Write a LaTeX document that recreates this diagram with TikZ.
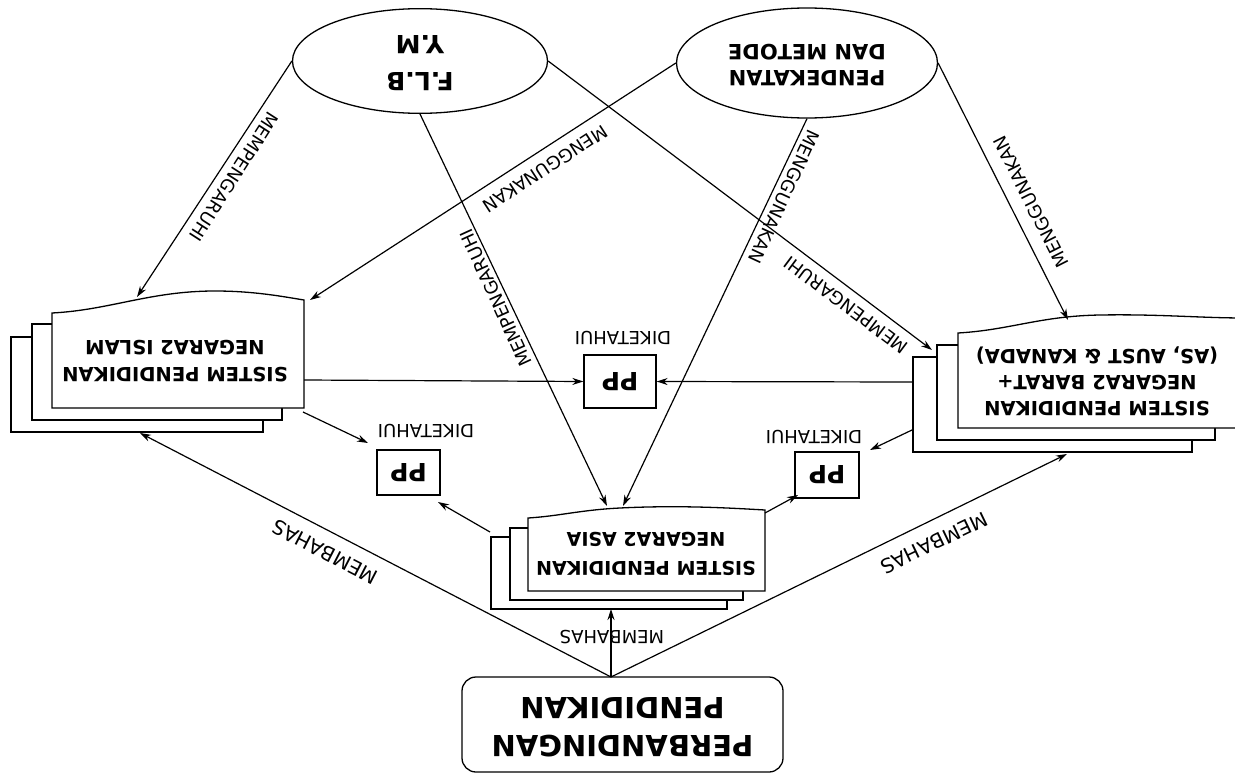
\documentclass[tikz,border=0pt]{standalone}
\usepackage{fontspec}
\usepackage{graphicx}
\setmainfont{DejaVu Sans}
\usetikzlibrary{shapes.geometric,arrows.meta}
\newcommand\flipbox[1]{\rotatebox[origin=c]{180}{#1}}
\tikzset{
  conn/.style={draw, line width=1.2pt, -{Stealth[length=11pt,width=7pt]}},
  lbl/.style={font=\fontsize{18}{20}\selectfont, inner sep=0pt},
  boxtext/.style={font=\bfseries\fontsize{19.5}{27}\selectfont, align=center, rotate=180, inner sep=0pt},
  oval/.style={draw, ellipse, line width=1.3pt, inner sep=0pt, font=\bfseries},
  ppbox/.style={draw, rectangle, line width=1.3pt, inner sep=0pt, font=\bfseries\fontsize{25}{25}\selectfont},
  sheet/.style={draw, line width=1.3pt, fill=white},
}
\begin{document}
\begin{tikzpicture}[x=1pt,y=-1pt]
\useasboundingbox (0,0) rectangle (1235,779);

% ---------- ellipses ----------
\node[oval, minimum width=255pt, minimum height=98pt] (flb) at (420,61)
  {\flipbox{\fontsize{25}{37}\selectfont\begin{tabular}{@{}c@{}}F.L.B\\Y.M\end{tabular}}};
\node[oval, minimum width=261pt, minimum height=110pt] (pend) at (807,63)
  {\flipbox{\fontsize{21}{26}\selectfont\begin{tabular}{@{}c@{}}PENDEKATAN\\DAN METODE\end{tabular}}};

% ---------- Islam stack ----------
\path[sheet] (11,337) rectangle (263,432);
\path[sheet] (32,324) rectangle (282,420);
\path[sheet] (52,408) -- (52,313) .. controls (110,310) and (150,291) .. (215,291)
   .. controls (255,291) and (285,297) .. (304,300) -- (304,408) -- cycle;
\node[boxtext] (islam) at (175,361) {SISTEM PENDIDIKAN\\NEGARA2 ISLAM};

% ---------- Barat stack ----------
\path[sheet] (913,357) rectangle (1192,452);
\path[sheet] (937,345) rectangle (1215,440);
\path[sheet] (958,428) -- (958,333) .. controls (1010,330) and (1040,316) .. (1100,315)
   .. controls (1160,314) and (1200,318) .. (1245,318) -- (1245,428) -- cycle;
\node[boxtext, font=\bfseries\fontsize{19.5}{26}\selectfont] (barat) at (1097,381)
  {SISTEM PENDIDIKAN\\NEGARA2 BARAT+\\(AS, AUST \& KANADA)};

% ---------- Asia stack ----------
\path[sheet] (491,537) rectangle (727,609);
\path[sheet] (510,528) rectangle (743,600);
\path[sheet] (528,591) -- (528,518) .. controls (560,516) and (580,510) .. (620,508)
   .. controls (680,505) and (730,508) .. (765,510) -- (765,591) -- cycle;
\node[boxtext, font=\bfseries\fontsize{19}{29}\selectfont] (asia) at (646,554) {SISTEM PENDIDIKAN\\NEGARA2 ASIA};

% ---------- PP boxes ----------
\node[ppbox, minimum width=72pt, minimum height=53pt] (ppM) at (620,381.5) {\flipbox{PP}};
\node[ppbox, minimum width=63pt, minimum height=45pt] (ppL) at (408.5,472.5) {\flipbox{PP}};
\node[ppbox, minimum width=64pt, minimum height=46pt] (ppR) at (827,475) {\flipbox{PP}};

% ---------- root ----------
\node[draw, rectangle, rounded corners=14pt, line width=1.3pt, minimum width=321pt, minimum height=95pt,
      inner sep=0pt, font=\bfseries] (perb) at (622.5,724.5)
  {\flipbox{\fontsize{29}{38}\selectfont\begin{tabular}{@{}c@{}}PERBANDINGAN\\PENDIDIKAN\end{tabular}}};

% ---------- connector end points ----------
\coordinate (islamA) at (137,297);
\coordinate (islamB) at (310,300);
\coordinate (islamR) at (304,380);
\coordinate (islamC) at (303,412);
\coordinate (islamBot) at (140,433);
\coordinate (asiaA) at (607,506);
\coordinate (asiaB) at (623,506);
\coordinate (asiaL) at (490,532);
\coordinate (asiaR) at (765,513);
\coordinate (asiaBot) at (611,609);
\coordinate (baratA) at (932,350);
\coordinate (baratB) at (1068,320);
\coordinate (baratL) at (913,382);
\coordinate (baratD) at (912,430);
\coordinate (baratBot) at (1067,454);
\coordinate (perbTop) at (611,677);
\coordinate (ppLin1) at (368,443);
\coordinate (ppLin2) at (438,502);
\coordinate (ppRin1) at (870,450);
\coordinate (ppRin2) at (798,495);

% ---------- connectors ----------
\draw[conn] (flb.west) -- (islamA);
\draw[conn] (flb.south) -- (asiaA);
\draw[conn] (flb.east) -- (baratA);
\draw[conn] (pend.west) -- (islamB);
\draw[conn] (pend.south) -- (asiaB);
\draw[conn] (pend.east) -- (baratB);
\draw[conn] (islamR) -- (ppM.west);
\draw[conn] (baratL) -- (ppM.east);
\draw[conn] (islamC) -- (ppLin1);
\draw[conn] (asiaL) -- (ppLin2);
\draw[conn] (baratD) -- (ppRin1);
\draw[conn] (asiaR) -- (ppRin2);
\draw[conn] (perbTop) -- (asiaBot);
\draw[conn] (perbTop) -- (islamBot);
\draw[conn] (perbTop) -- (baratBot);

% ---------- labels ----------
\node[lbl, rotate=237.2] (l1) at (234,177) {MEMPENGARUHI};
\node[lbl, rotate=114.6] (l2) at (496,298) {MEMPENGARUHI};
\node[lbl, rotate=143.1] (l3) at (846,305) {MEMPENGARUHI};
\node[lbl, rotate=213] (l4) at (545,169) {MENGGUNAKAN};
\node[lbl, rotate=245.2] (l5) at (784,197) {MENGGUNAKAN};
\node[lbl, rotate=116.9] (l6) at (1031,202) {MENGGUNAKAN};
\node[lbl, font=\fontsize{20}{22}\selectfont, rotate=152.7] (l7) at (325,552) {MEMBAHAS};
\node[lbl, font=\fontsize{20}{22}\selectfont, rotate=205.6] (l8) at (934,543) {MEMBAHAS};
\node[lbl, rotate=180] (l9) at (612,637) {MEMBAHAS};
\node[lbl, rotate=180] (d1) at (426,431) {DIKETAHUI};
\node[lbl, rotate=180] (d2) at (814,437) {DIKETAHUI};
\node[lbl, rotate=180] (d3) at (623,338) {DIKETAHUI};
\end{tikzpicture}
\end{document}
